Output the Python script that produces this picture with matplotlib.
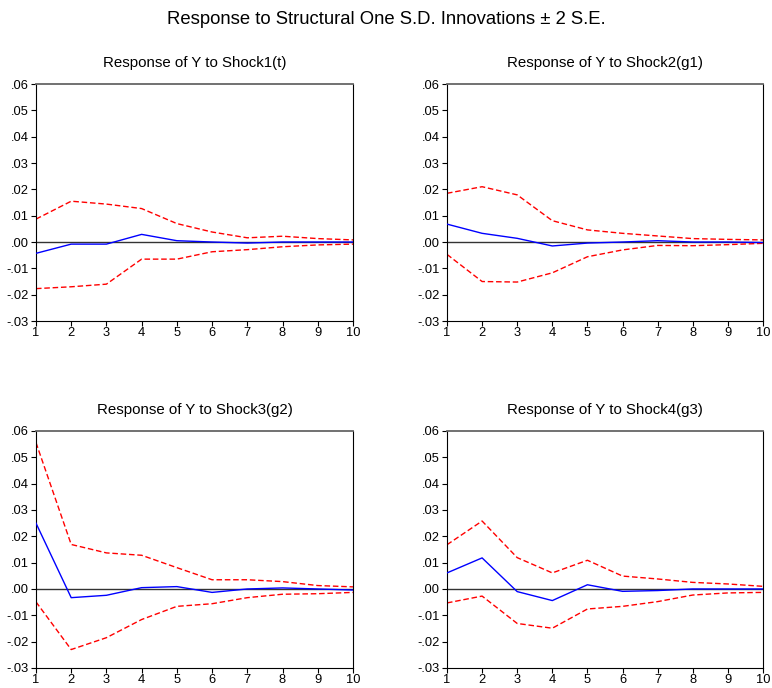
"""
Impulse responses of Y to four structural shocks, +/- 2 S.E. bands.

Output:
    out.png
"""

import matplotlib
matplotlib.use("Agg")
import matplotlib.pyplot as plt
from matplotlib.ticker import FuncFormatter


plt.rcParams.update({
    "font.family": ["Liberation Sans", "DejaVu Sans"],
    "font.size": 8,
})


# ---------------------------------------------------------------------
# Data
# ---------------------------------------------------------------------

periods = [1, 2, 3, 4, 5, 6, 7, 8, 9, 10]

titles = [
    "Response of Y to Shock1(t)",
    "Response of Y to Shock2(g1)",
    "Response of Y to Shock3(g2)",
    "Response of Y to Shock4(g3)",
]

resp_shock1 = [-0.0043, -0.0008, -0.0008, 0.0029, 0.0005, 0.0, -0.0004, 0.0, 0.0, 0.0]
upper_shock1 = [0.0087, 0.0155, 0.0144, 0.0127, 0.0070, 0.0038, 0.0016, 0.0022, 0.0013, 0.0008]
lower_shock1 = [-0.0177, -0.0170, -0.0160, -0.0065, -0.0065, -0.0037, -0.0029, -0.0018, -0.0011, -0.0008]

resp_shock2 = [0.0068, 0.0033, 0.0014, -0.0015, -0.0004, 0.0, 0.0005, 0.0, 0.0, -0.0002]
upper_shock2 = [0.0185, 0.0210, 0.0179, 0.0081, 0.0046, 0.0033, 0.0023, 0.0013, 0.0010, 0.0008]
lower_shock2 = [-0.0047, -0.0150, -0.0152, -0.0117, -0.0056, -0.0030, -0.0013, -0.0014, -0.0010, -0.0005]

resp_shock3 = [0.0250, -0.0033, -0.0024, 0.0005, 0.0009, -0.0013, 0.0, 0.0004, 0.0, -0.0004]
upper_shock3 = [0.0556, 0.0169, 0.0137, 0.0128, 0.0081, 0.0035, 0.0035, 0.0028, 0.0013, 0.0008]
lower_shock3 = [-0.0049, -0.0230, -0.0185, -0.0116, -0.0066, -0.0056, -0.0033, -0.0020, -0.0018, -0.0013]

resp_shock4 = [0.0061, 0.0118, -0.0010, -0.0044, 0.0016, -0.0009, -0.0006, 0.0, 0.0, 0.0]
upper_shock4 = [0.0168, 0.0258, 0.0119, 0.0061, 0.0109, 0.0049, 0.0038, 0.0025, 0.0019, 0.0010]
lower_shock4 = [-0.0053, -0.0027, -0.0131, -0.0149, -0.0076, -0.0066, -0.0048, -0.0023, -0.0015, -0.0013]

y_ticks = [-0.03, -0.02, -0.01, 0.00, 0.01, 0.02, 0.03, 0.04, 0.05, 0.06]

panels = [
    (titles[0], resp_shock1, upper_shock1, lower_shock1),
    (titles[1], resp_shock2, upper_shock2, lower_shock2),
    (titles[2], resp_shock3, upper_shock3, lower_shock3),
    (titles[3], resp_shock4, upper_shock4, lower_shock4),
]

# axes rectangles in figure fractions: left, bottom, width, height
positions = [
    (0.0466, 0.5334, 0.4106, 0.3445),
    (0.5790, 0.5334, 0.4093, 0.3445),
    (0.0466, 0.0291, 0.4106, 0.3445),
    (0.5790, 0.0291, 0.4093, 0.3445),
]


def eviews_fmt(value, _pos):
    text = f"{value:.2f}"
    return text.replace("0.", ".", 1)


# ---------------------------------------------------------------------
# Figure
# ---------------------------------------------------------------------

fig = plt.figure(figsize=(7.72, 6.88), dpi=100)
fig.text(0.5, 0.972, "Response to Structural One S.D. Innovations \u00b1 2 S.E.",
         ha="center", va="center", fontsize=13.3)

for (title, resp, upper, lower), rect in zip(panels, positions):
    ax = fig.add_axes(rect)

    ax.axhline(0, color="#333333", linewidth=1.0, zorder=1)
    ax.plot(periods, upper, color="red", linestyle=(0, (4, 2)), linewidth=1.0, zorder=2)
    ax.plot(periods, lower, color="red", linestyle=(0, (4, 2)), linewidth=1.0, zorder=2)
    ax.plot(periods, resp, color="blue", linewidth=1.0, zorder=3)

    ax.set_xlim(1, 10)
    ax.set_ylim(-0.03, 0.06)
    ax.set_xticks(periods)
    ax.set_yticks(y_ticks)
    ax.yaxis.set_major_formatter(FuncFormatter(eviews_fmt))

    ax.tick_params(direction="out", length=3.5, width=0.8, labelsize=9.3, pad=1.5)
    ax.tick_params(axis="x", pad=1)

    for side in ["left", "bottom", "right"]:
        ax.spines[side].set_color("black")
        ax.spines[side].set_linewidth(0.8)
    ax.spines["top"].set_color("#666666")
    ax.spines["top"].set_linewidth(1.3)

    ax.set_title(title, fontsize=10.8, pad=12)

fig.savefig("out.png", dpi=100)
